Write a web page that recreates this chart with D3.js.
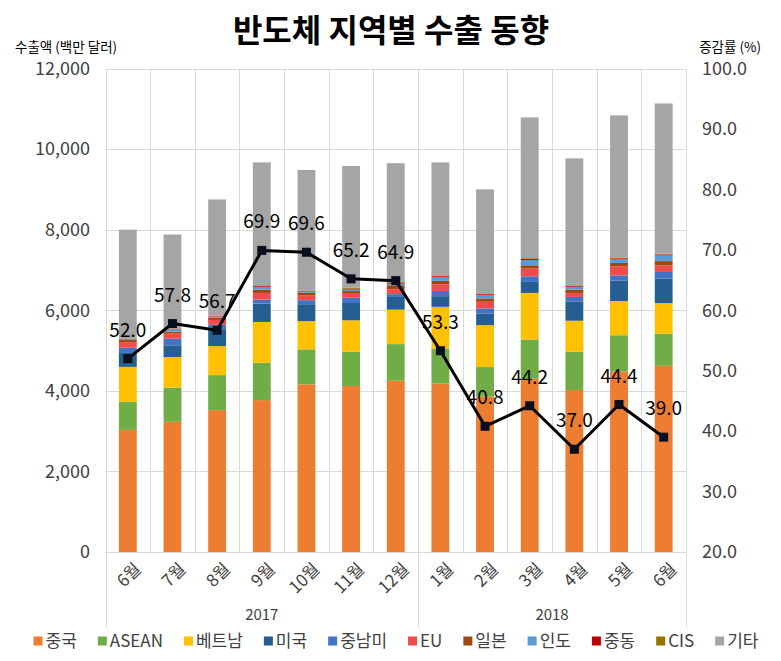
<!DOCTYPE html>
<html>
<head>
<meta charset="utf-8">
<script src="https://cdn.jsdelivr.net/npm/d3@7"></script>
<style>
  html, body { margin: 0; padding: 0; background: #fff; }
  svg { display: block; font-family: "Noto Sans CJK KR", "Noto Sans", sans-serif; }
</style>
</head>
<body>
<svg id="chart" width="781" height="661"></svg>
<script>
// ---------------- data ----------------
const months = ["6월","7월","8월","9월","10월","11월","12월","1월","2월","3월","4월","5월","6월"];
const years  = ["2017","2017","2017","2017","2017","2017","2017","2018","2018","2018","2018","2018","2018"];
const seriesNames = ["중국","ASEAN","베트남","미국","중남미","EU","일본","인도","중동","CIS","기타"];
const china   = [3030,3230,3520,3770,4160,4120,4250,4180,3860,4300,4020,4480,4620];
const asean   = [700,850,870,925,870,850,910,870,730,973,950,900,800];
const vietnam = [865,760,720,1015,700,780,855,1035,1040,1157,770,850,760];
const usa     = [345,290,420,455,420,430,315,265,290,273,470,510,605];
const latam   = [130,165,110,100,100,130,70,130,125,140,120,125,165];
const eu      = [140,125,120,165,124,100,120,165,165,190,100,225,165];
const japan   = [50,50,60,83,60,66,100,85,83,83,83,85,105];
const india   = [20,60,20,70,30,40,40,90,80,130,70,90,140];
const mideast = [10,10,10,20,15,25,25,25,25,25,20,25,25];
const cis     = [10,10,10,15,10,20,15,20,20,20,15,15,20];
const others  = [2700,2330,2890,3052,2991,3019,2950,2805,2582,3495,3152,3531,3728];
const growth  = [52.0,57.8,56.7,69.9,69.6,65.2,64.9,53.3,40.8,44.2,37.0,44.4,39.0];
const leftTicks  = [0,2000,4000,6000,8000,10000,12000];
const rightTicks = [20,30,40,50,60,70,80,90,100];
const seriesColors = ["#ED7D31","#70AD47","#FFC000","#255E91","#4472C4","#F24B4B","#9E480E","#5B9BD5","#C00000","#997300","#A5A5A5"];

const seriesValues = [china, asean, vietnam, usa, latam, eu, japan, india, mideast, cis, others];

// ---------------- layout ----------------
const svg = d3.select("#chart");
const plotL = 105.5, plotR = 686, plotT = 68.5, plotB = 552;

const keys = months.map((m, i) => i);
const x = d3.scaleBand().domain(keys).range([plotL, plotR]).paddingInner(0.6).paddingOuter(0.3);
const step = x.step();
const yL = d3.scaleLinear().domain([0, 12000]).range([plotB, plotT]);
const yR = d3.scaleLinear().domain([20, 100]).range([plotB, plotT]);

const table = keys.map(i => {
  const row = { i };
  seriesNames.forEach((s, k) => row[s] = seriesValues[k][i]);
  return row;
});
const stack = d3.stack().keys(seriesNames)(table);

// title
svg.append("text").attr("x", 391).attr("y", 42).attr("text-anchor", "middle")
  .attr("font-size", 32).attr("font-weight", "bold").attr("fill", "#000")
  .text("반도체 지역별 수출 동향");

// axis titles
svg.append("text").attr("x", 15).attr("y", 52).attr("font-size", 13.5).attr("fill", "#000")
  .text("수출액 (백만 달러)");
svg.append("text").attr("x", 761).attr("y", 52).attr("text-anchor", "end").attr("font-size", 13.5).attr("fill", "#000")
  .text("증감률 (%)");

// horizontal gridlines
svg.append("g").selectAll("line").data(leftTicks).join("line")
  .attr("x1", plotL).attr("x2", plotR)
  .attr("y1", d => Math.round(yL(d)) + 0.5).attr("y2", d => Math.round(yL(d)) + 0.5)
  .attr("stroke", "#d9d9d9").attr("stroke-width", 1);

// vertical category gridlines
const bounds = d3.range(months.length + 1).map(k => plotL + k * step);
svg.append("g").selectAll("line").data(bounds).join("line")
  .attr("x1", d => Math.round(d) + 0.5).attr("x2", d => Math.round(d) + 0.5)
  .attr("y1", plotT).attr("y2", plotB)
  .attr("stroke", "#d9d9d9").attr("stroke-width", 1);

// group separator lines below axis
const yearGroups = d3.groups(keys, i => years[i]);
const sepX = [plotL];
yearGroups.forEach(([yr, idx]) => sepX.push(plotL + (idx[idx.length - 1] + 1) * step));
svg.append("g").selectAll("line").data(sepX).join("line")
  .attr("x1", d => Math.round(d) + 0.5).attr("x2", d => Math.round(d) + 0.5)
  .attr("y1", plotB).attr("y2", 627)
  .attr("stroke", "#d9d9d9").attr("stroke-width", 1);

// left axis labels
svg.append("g").selectAll("text").data(leftTicks).join("text")
  .attr("x", 90).attr("y", d => yL(d)).attr("dy", "0.35em")
  .attr("text-anchor", "end").attr("font-size", 18).attr("fill", "#404040")
  .text(d => d3.format(",")(d));

// right axis labels
svg.append("g").selectAll("text").data(rightTicks).join("text")
  .attr("x", 702).attr("y", d => yR(d)).attr("dy", "0.35em")
  .attr("text-anchor", "start").attr("font-size", 18).attr("fill", "#404040")
  .text(d => d3.format(".1f")(d));

// stacked bars
const gBars = svg.append("g");
stack.forEach((layer, k) => {
  gBars.append("g").attr("fill", seriesColors[k]).selectAll("rect").data(layer).join("rect")
    .attr("x", d => x(d.data.i)).attr("width", x.bandwidth())
    .attr("y", d => yL(d[1])).attr("height", d => yL(d[0]) - yL(d[1]));
});

// x axis line
svg.append("line").attr("x1", plotL).attr("x2", plotR).attr("y1", plotB + 0.5).attr("y2", plotB + 0.5)
  .attr("stroke", "#d9d9d9");

// month labels
svg.append("g").selectAll("text").data(keys).join("text")
  .attr("transform", i => `translate(${x(i) + x.bandwidth() / 2 + 10},${566}) rotate(-45)`)
  .attr("text-anchor", "end").attr("dy", "0.35em").attr("font-size", 17).attr("fill", "#404040")
  .text(i => months[i]);

// year labels
svg.append("g").selectAll("text").data(yearGroups).join("text")
  .attr("x", ([yr, idx]) => plotL + (idx[0] + idx[idx.length - 1] + 1) / 2 * step)
  .attr("y", 620).attr("text-anchor", "middle").attr("font-size", 15).attr("fill", "#404040")
  .text(([yr]) => yr);

// growth line
const cx = i => x(i) + x.bandwidth() / 2;
svg.append("path").datum(keys)
  .attr("d", d3.line().x(i => cx(i)).y(i => yR(growth[i])))
  .attr("fill", "none").attr("stroke", "#000").attr("stroke-width", 3).attr("stroke-linejoin", "round");
svg.append("g").selectAll("rect").data(keys).join("rect")
  .attr("x", i => cx(i) - 4.5).attr("y", i => yR(growth[i]) - 4.5)
  .attr("width", 9).attr("height", 9).attr("fill", "#0a0f1e");
svg.append("g").selectAll("text").data(keys).join("text")
  .attr("x", i => cx(i)).attr("y", i => yR(growth[i]) - 22)
  .attr("text-anchor", "middle").attr("font-size", 19).attr("fill", "#000")
  .text(i => growth[i].toFixed(1));

// legend
const leg = svg.append("g");
let lx = 0;
const gap = 21;
seriesNames.forEach((name, k) => {
  const g = leg.append("g");
  g.append("rect").attr("x", 0).attr("y", -4.5).attr("width", 9).attr("height", 9).attr("fill", seriesColors[k]);
  const t = g.append("text").attr("x", 12).attr("y", 0).attr("dy", "0.35em")
    .attr("font-size", 17).attr("fill", "#404040").text(name);
  const w = 12 + t.node().getComputedTextLength();
  g.attr("transform", `translate(${lx},0)`);
  lx += w + gap;
});
const legW = lx - gap;
leg.attr("transform", `translate(${396 - legW / 2},641)`);
</script>
</body>
</html>
